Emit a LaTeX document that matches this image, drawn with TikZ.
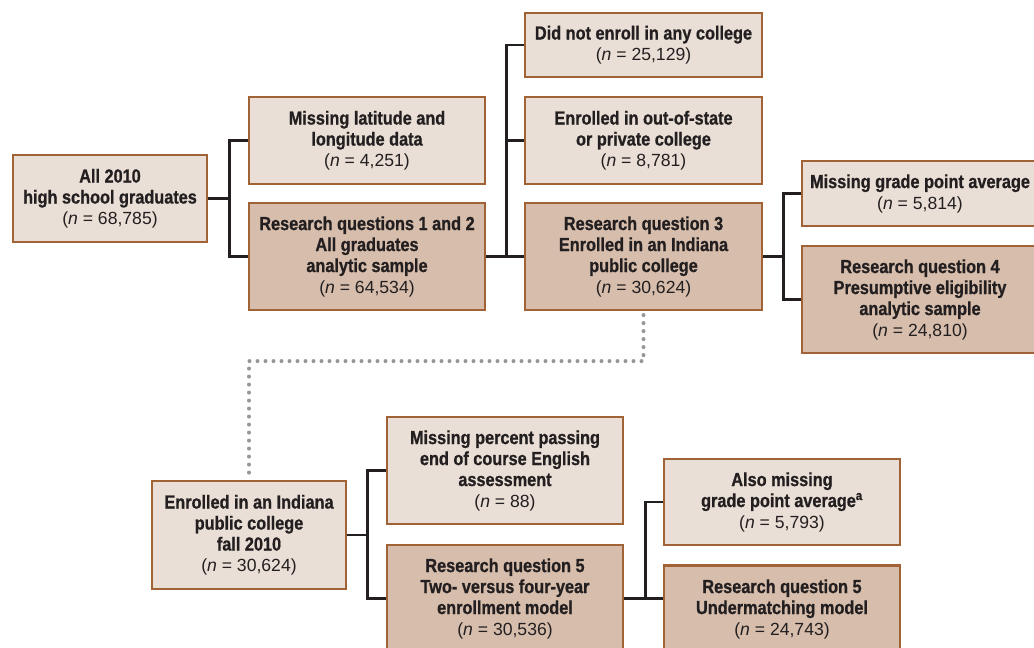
\documentclass[tikz,border=0pt]{standalone}
\usepackage{fontspec}
\setmainfont{Liberation Sans}
\newfontfamily\condfam[FakeStretch=0.86, FakeBold=0.8]{Liberation Sans Bold}
\definecolor{boxlight}{RGB}{234,223,214}
\definecolor{boxdark}{RGB}{214,189,172}
\definecolor{boxedge}{RGB}{161,99,54}
\definecolor{linkblack}{RGB}{35,31,32}
\definecolor{dotgray}{RGB}{150,150,150}
\newcommand{\nval}[1]{{\normalfont\fontsize{13.2}{15.75}\selectfont(\textit{n} = #1)}}
\tikzset{
  lightbox/.style={rectangle, draw=boxedge, line width=1.6pt, fill=boxlight,
    align=center, inner sep=0pt, text=linkblack,
    font=\condfam\fontsize{14.2}{15.75}\selectfont},
  darkbox/.style={lightbox, fill=boxdark},
  link/.style={draw=linkblack, line width=2.2pt},
  dotline/.style={draw=dotgray, line width=3pt, line cap=round,
    dash pattern=on 0pt off 6pt}
}
\begin{document}
\begin{tikzpicture}[x=0.75pt, y=-0.75pt]
  \useasboundingbox (0,0) rectangle (1034,647);
  \clip (0,0) rectangle (1034,647);

  % top tree
  \node[lightbox, minimum width=145.5pt, minimum height=65.25pt] (all) at (110,198.5)
    {All 2010\\high school graduates\\\nval{68,785}};
  \node[lightbox, minimum width=177pt, minimum height=65.25pt] (latlon) at (367,140.5)
    {Missing latitude and\\longitude data\\\nval{4,251}};
  \node[darkbox, minimum width=177pt, minimum height=80.25pt] (rq12) at (367,256.5)
    {Research questions 1 and 2\\All graduates\\analytic sample\\\nval{64,534}};
  \node[lightbox, minimum width=177.75pt, minimum height=48pt] (noenroll) at (643.5,45)
    {Did not enroll in any college\\\nval{25,129}};
  \node[lightbox, minimum width=177.75pt, minimum height=65.25pt] (outstate) at (643.5,140.5)
    {Enrolled in out-of-state\\or private college\\\nval{8,781}};
  \node[darkbox, minimum width=177.75pt, minimum height=80.25pt] (rq3) at (643.5,256.5)
    {Research question 3\\Enrolled in an Indiana\\public college\\\nval{30,624}};
  \node[lightbox, minimum width=177pt, minimum height=48.75pt] (gpa) at (920,193.5)
    {Missing grade point average\\\nval{5,814}};
  \node[darkbox, minimum width=177pt, minimum height=80.25pt] (rq4) at (920,299.5)
    {Research question 4\\Presumptive eligibility\\analytic sample\\\nval{24,810}};

  % bottom tree
  \node[lightbox, minimum width=145.5pt, minimum height=81pt] (fall) at (249,535)
    {Enrolled in an Indiana\\public college\\fall 2010\\\nval{30,624}};
  \node[lightbox, minimum width=177pt, minimum height=80.25pt] (english) at (505,470.5)
    {Missing percent passing\\end of course English\\assessment\\\nval{88}};
  \node[darkbox, minimum width=177pt, minimum height=80.25pt] (rq5a) at (505,598.5)
    {Research question 5\\Two- versus four-year\\enrollment model\\\nval{30,536}};
  \node[lightbox, minimum width=177pt, minimum height=64.5pt] (alsogpa) at (782,502)
    {Also missing\\grade point average\textsuperscript{a}\\\nval{5,793}};
  \node[darkbox, minimum width=177pt, minimum height=65.25pt] (rq5b) at (782,609)
    {Research question 5\\Undermatching model\\\nval{24,743}};

  % connectors
  \draw[link] (all.east) -- ++(21,0) |- (latlon.west);
  \draw[link] (all.east) -- ++(21,0) |- (rq12.west);
  \draw[link] (rq12.east) -- (rq3.west);
  \draw[link] (rq12.east) ++(20,0) |- (noenroll.west);
  \draw[link] (rq12.east) ++(20,0) |- (outstate.west);
  \draw[link] (rq3.east) -- ++(20,0) |- (gpa.west);
  \draw[link] (rq3.east) -- ++(20,0) |- (rq4.west);
  \draw[link] (fall.east) -- ++(20,0) |- (english.west);
  \draw[link] (fall.east) -- ++(20,0) |- (rq5a.west |- rq5a.east);
  \draw[link] (rq5a.east) -- (rq5b.west |- rq5a.east);
  \draw[link] (rq5a.east) ++(21,0) |- (alsogpa.west);

  % link to lower tree
  \draw[dotline] ([yshift=-3pt]rq3.south) -- ++(0,46) -| ([yshift=3pt]fall.north);
\end{tikzpicture}
\end{document}
